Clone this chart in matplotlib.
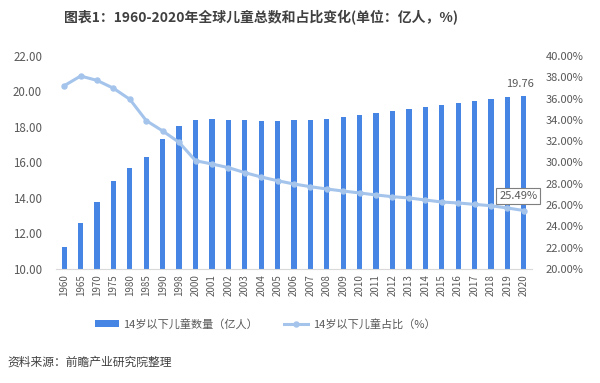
import matplotlib
matplotlib.use("Agg")
import matplotlib.pyplot as plt
from matplotlib.ticker import FuncFormatter, MultipleLocator

plt.rcParams['font.family'] = ['Noto Sans CJK SC', 'DejaVu Sans']

years = ['1960', '1965', '1970', '1975', '1980', '1985', '1990', '1998', '2000',
         '2001', '2002', '2003', '2004', '2005', '2006', '2007', '2008', '2009',
         '2010', '2011', '2012', '2013', '2014', '2015', '2016', '2017', '2018',
         '2019', '2020']
children = [11.26, 12.57, 13.79, 14.94, 15.67, 16.33, 17.32, 18.07, 18.41,
            18.47, 18.41, 18.38, 18.32, 18.32, 18.38, 18.41, 18.47, 18.58,
            18.69, 18.81, 18.92, 19.03, 19.14, 19.24, 19.37, 19.46, 19.58,
            19.69, 19.76]
share = [37.21, 38.12, 37.71, 36.97, 35.93, 33.93, 32.96, 31.89, 30.17,
         29.86, 29.52, 29.05, 28.64, 28.29, 27.98, 27.73, 27.51, 27.32,
         27.14, 26.95, 26.79, 26.67, 26.48, 26.29, 26.20, 26.07, 25.94,
         25.73, 25.49]

title = '图表1：1960-2020年全球儿童总数和占比变化(单位：亿人，%)'
bar_label = '14岁以下儿童数量（亿人）'
line_label = '14岁以下儿童占比（%）'
source = '资料来源：前瞻产业研究院整理'

bar_color = '#4685e3'
line_color = '#a4c4ec'
text_color = '#595959'

fig = plt.figure(figsize=(6.0, 3.83), dpi=100)
ax = fig.add_axes([56/600, 1-269/383, (532-56)/600, (269-56)/383])
ax2 = ax.twinx()

x = list(range(len(years)))
bars = ax.bar(x, children, width=0.32, color=bar_color, zorder=2)
ax.set_ylim(10, 22)
ax.set_xlim(-0.5, len(years)-0.5)
ax.yaxis.set_major_locator(MultipleLocator(2))
ax.yaxis.set_major_formatter(FuncFormatter(lambda v, p: f'{v:.2f}'))
ax.set_xticks(x)
ax.set_xticklabels(years, rotation=90, fontsize=7, color=text_color)
ax.tick_params(axis='y', labelsize=8.3, colors=text_color, length=0, pad=10)
ax.tick_params(axis='x', length=0, pad=4)

line, = ax2.plot(x, share, color=line_color, lw=2.2, marker='o', ms=3.6,
                 markerfacecolor=line_color, markeredgecolor=line_color, zorder=3)
ax2.set_ylim(20, 40)
ax2.yaxis.set_major_locator(MultipleLocator(2))
ax2.yaxis.set_major_formatter(FuncFormatter(lambda v, p: f'{v:.2f}%'))
ax2.tick_params(axis='y', labelsize=8, colors=text_color, length=0, pad=10)

for a in (ax, ax2):
    for s in a.spines.values():
        s.set_visible(False)
ax.spines['bottom'].set_visible(True)
ax.spines['bottom'].set_color('#d9d9d9')

ax.annotate(f'{children[-1]:.2f}', xy=(x[-1], children[-1]), xytext=(-3, 5),
            textcoords='offset points', ha='center', va='bottom',
            fontsize=8, color=text_color)
ax2.annotate(f'{share[-1]:.2f}%', xy=(x[-1], share[-1]), xytext=(-4, 7),
             textcoords='offset points', ha='center', va='bottom',
             fontsize=8, color=text_color,
             bbox=dict(boxstyle='square,pad=0.25', fc='white', ec='#7f7f7f', lw=0.8))

fig.text(261/600, 1-18/383, title, ha='center', va='center', fontsize=10,
         fontweight='bold', color='#404040')

fig.legend([bars, line], [bar_label, line_label], loc='center',
           bbox_to_anchor=(265/600, 1-324/383), ncol=2, frameon=False,
           fontsize=8, labelcolor=text_color, handlelength=2.2,
           columnspacing=2.3, handletextpad=0.4)

fig.text(7/600, 1-362/383, source, ha='left', va='center', fontsize=8.5,
         color='#404040')

fig.savefig('out.png', dpi=100)
